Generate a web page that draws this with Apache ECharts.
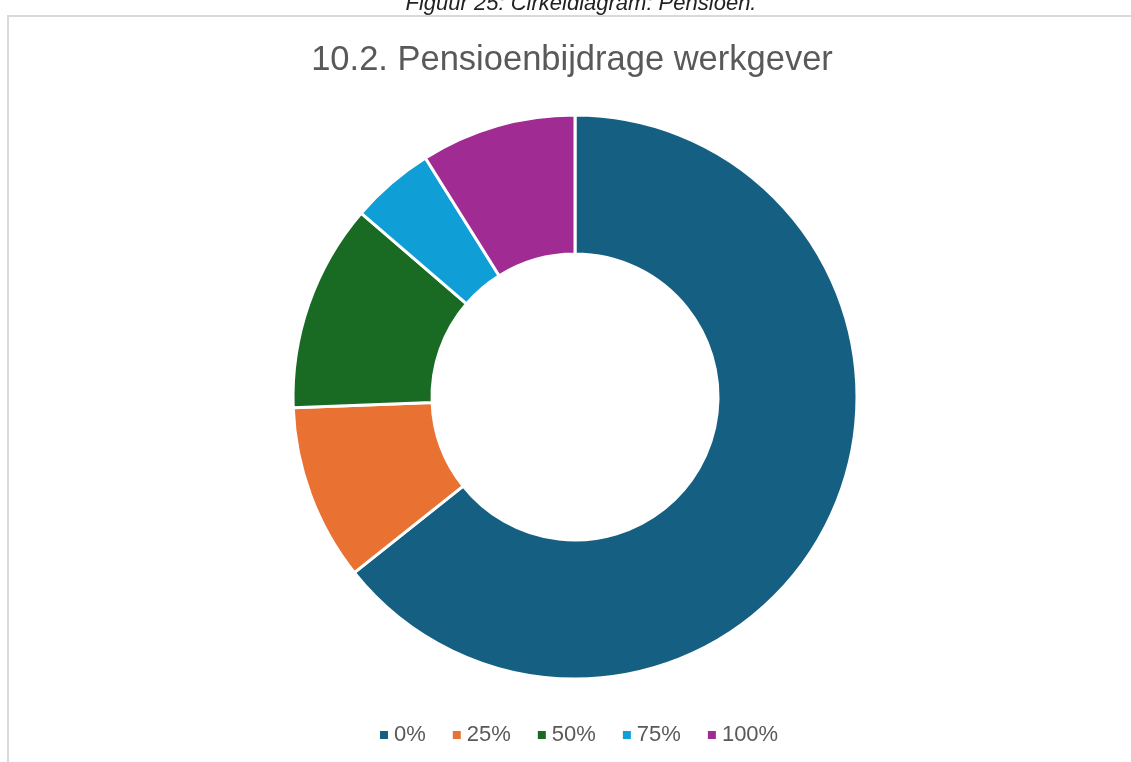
<!DOCTYPE html>
<html>
<head>
<meta charset="utf-8">
<script src="https://cdn.jsdelivr.net/npm/echarts@6/dist/echarts.min.js"></script>
<style>
  html, body { margin: 0; padding: 0; background: #fff; }
  #chart { width: 1131px; height: 762px; }
</style>
</head>
<body>
<div id="chart"></div>
<script>
const categories = ['0%', '25%', '50%', '75%', '100%'];
const values = [64.3, 10.1, 11.9, 4.8, 8.9];
const colors = ['#156082', '#E97132', '#196B24', '#0F9ED5', '#A02B93'];

const chart = echarts.init(document.getElementById('chart'));

const option = {
    animation: false,
    color: colors,
    title: [
        {
            text: 'Figuur 25: Cirkeldiagram: Pensioen.',
            left: 576,
            textAlign: 'center',
            top: -12,
            textStyle: {
                fontFamily: 'Liberation Sans',
                fontStyle: 'italic',
                fontWeight: 'normal',
                fontSize: 22,
                color: '#222'
            }
        },
        {
            text: '10.2. Pensioenbijdrage werkgever',
            left: 567,
            textAlign: 'center',
            top: 38,
            textStyle: {
                fontFamily: 'Liberation Sans',
                fontWeight: 'normal',
                fontSize: 34.5,
                color: '#595959'
            }
        }
    ],
    graphic: [{
        type: 'rect',
        silent: true,
        shape: { x: 8, y: 16, width: 1200, height: 800 },
        style: { fill: 'none', stroke: '#d9d9d9', lineWidth: 2 }
    }],
    legend: {
        top: 719,
        left: 373,
        itemWidth: 10,
        itemHeight: 10,
        itemGap: 25,
        icon: 'rect',
        textStyle: {
            fontFamily: 'Liberation Sans',
            fontSize: 22,
            color: '#595959'
        },
        data: categories
    },
    series: [{
        type: 'pie',
        center: [575, 397],
        radius: [143, 282],
        startAngle: 90,
        clockwise: true,
        label: { show: false },
        labelLine: { show: false },
        itemStyle: { borderColor: '#fff', borderWidth: 3 },
        emphasis: { disabled: true },
        data: categories.map((c, i) => ({ name: c, value: values[i] }))
    }]
};

chart.setOption(option);
</script>
</body>
</html>
